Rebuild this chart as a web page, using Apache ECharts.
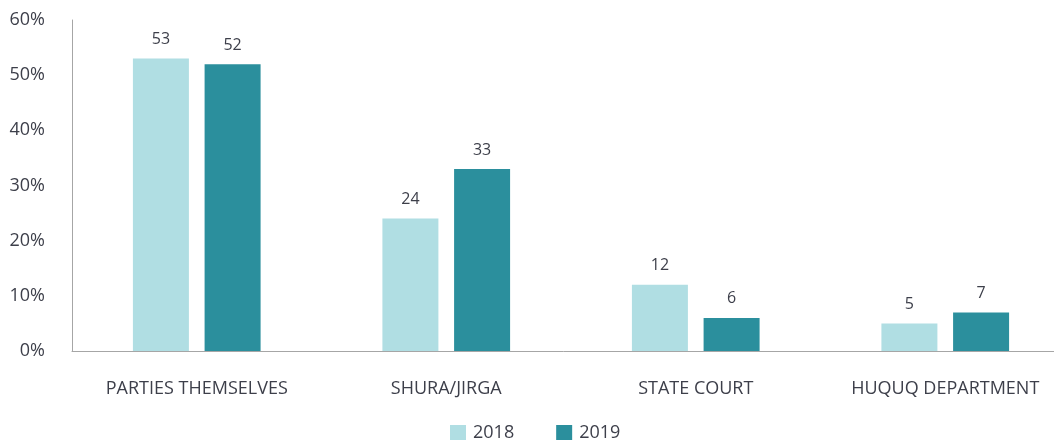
<!DOCTYPE html>
<html>
<head>
<meta charset="utf-8">
<script src="https://cdn.jsdelivr.net/npm/echarts@6/dist/echarts.min.js"></script>
<style>
  html, body { margin: 0; padding: 0; background: #ffffff; }
  #chart { width: 1054px; height: 440px; }
</style>
</head>
<body>
<div id="chart"></div>
<script>
// Who resolved the dispute, share of respondents by year
const categories = ['PARTIES THEMSELVES', 'SHURA/JIRGA', 'STATE COURT', 'HUQUQ DEPARTMENT'];
const values2018 = [53, 24, 12, 5];
const values2019 = [52, 33, 6, 7];
const yTicks = [0, 10, 20, 30, 40, 50, 60];

const textColor = '#3d3f4a';
const fontFamily = '"Open Sans", "Noto Sans", sans-serif';

const chart = echarts.init(document.getElementById('chart'), null, { renderer: 'canvas' });

const valueLabel = {
  show: true,
  position: 'top',
  distance: 11,
  color: textColor,
  fontFamily: fontFamily,
  fontSize: 16
};

chart.setOption({
  animation: false,
  // the plot runs a little past the right edge of the canvas
  grid: { left: 72, top: 20, right: -16, bottom: 89, containLabel: false, outerBoundsMode: 'none' },
  legend: {
    top: 419,
    left: 445,
    itemWidth: 16,
    itemHeight: 16,
    itemGap: 42,
    icon: 'rect',
    textStyle: { color: textColor, fontFamily: fontFamily, fontSize: 18, padding: [0, 0, 0, 2] },
    data: ['2018', '2019']
  },
  xAxis: {
    type: 'category',
    data: categories,
    axisLine: { lineStyle: { color: '#a6a6a6', width: 1 } },
    axisTick: { show: false },
    axisLabel: { color: textColor, fontFamily: fontFamily, fontSize: 18, margin: 29 }
  },
  yAxis: {
    type: 'value',
    min: yTicks[0],
    max: yTicks[yTicks.length - 1],
    interval: 10,
    axisLine: { show: true, lineStyle: { color: '#a6a6a6', width: 1 } },
    axisTick: { show: false },
    splitLine: { show: false },
    axisLabel: {
      color: textColor, fontFamily: fontFamily, fontSize: 18, margin: 27,
      formatter: v => v + '%'
    }
  },
  series: [
    {
      name: '2018',
      type: 'bar',
      data: values2018,
      barWidth: 56,
      barGap: '28%',
      itemStyle: { color: '#b0dee3' },
      label: valueLabel
    },
    {
      name: '2019',
      type: 'bar',
      data: values2019,
      barWidth: 56,
      barGap: '28%',
      itemStyle: { color: '#2b8f9d' },
      label: valueLabel
    }
  ]
});
</script>
</body>
</html>
